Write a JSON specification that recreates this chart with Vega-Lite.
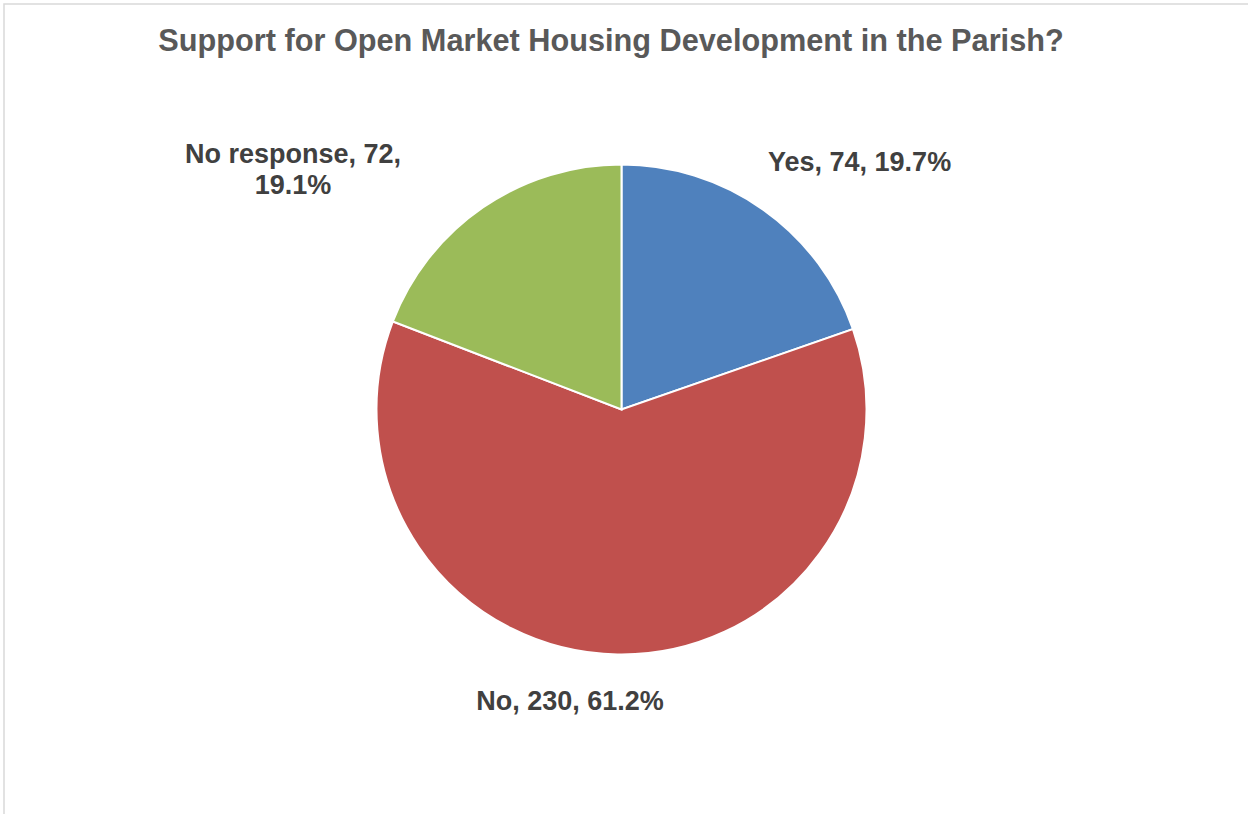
{
  "$schema": "https://vega.github.io/schema/vega-lite/v6.json",
  "autosize": {"type": "none"},
  "width": 1245,
  "height": 811,
  "padding": {"left": 4, "top": 4, "right": -1, "bottom": -1},
  "background": "white",
  "view": {"stroke": "#d9d9d9", "strokeWidth": 1.5},
  "title": {
    "text": "Support for Open Market Housing Development in the Parish?",
    "font": "Liberation Sans",
    "fontSize": 30.7,
    "fontWeight": "bold",
    "color": "#595959",
    "anchor": "middle",
    "frame": "group",
    "baseline": "alphabetic",
    "offset": -77.5,
    "dx": -15.5
  },
  "data": {
    "values": [
      {"category": "Yes", "count": 74, "order": 1, "label": "Yes, 74, 19.7%"},
      {"category": "No", "count": 230, "order": 2, "label": "No, 230, 61.2%"},
      {"category": "No response", "count": 72, "order": 3, "label": "No response, 72,\n19.1%"}
    ]
  },
  "encoding": {
    "theta": {"field": "count", "type": "quantitative", "stack": true},
    "order": {"field": "order", "type": "quantitative"}
  },
  "layer": [
    {
      "mark": {"type": "arc", "outerRadius": 245, "stroke": "white", "strokeWidth": 2, "xOffset": -5},
      "encoding": {
        "color": {
          "field": "category",
          "type": "nominal",
          "scale": {"domain": ["Yes", "No", "No response"], "range": ["#4F81BD", "#C0504D", "#9BBB59"]},
          "legend": null
        }
      }
    },
    {
      "mark": {"type": "text", "radius": 300, "xOffset": -5, "align": "left", "baseline": "alphabetic", "dx": -27.4, "dy": 5.7, "font": "Liberation Sans", "fontSize": 27, "fontWeight": "bold", "color": "#404040"},
      "encoding": {
        "text": {"condition": {"test": "datum.category === 'Yes'", "field": "label"}, "value": ""}
      }
    },
    {
      "mark": {"type": "text", "radius": 300, "xOffset": -5, "align": "center", "baseline": "alphabetic", "dx": -46.5, "dy": 0.5, "font": "Liberation Sans", "fontSize": 27, "fontWeight": "bold", "color": "#404040"},
      "encoding": {
        "text": {"condition": {"test": "datum.category === 'No'", "field": "label"}, "value": ""}
      }
    },
    {
      "mark": {"type": "text", "radius": 300, "xOffset": -5, "align": "center", "baseline": "alphabetic", "dx": -158.7, "dy": 1.2, "lineBreak": "\n", "lineHeight": 31, "font": "Liberation Sans", "fontSize": 27, "fontWeight": "bold", "color": "#404040"},
      "encoding": {
        "text": {"condition": {"test": "datum.category === 'No response'", "field": "label"}, "value": ""}
      }
    }
  ]
}
